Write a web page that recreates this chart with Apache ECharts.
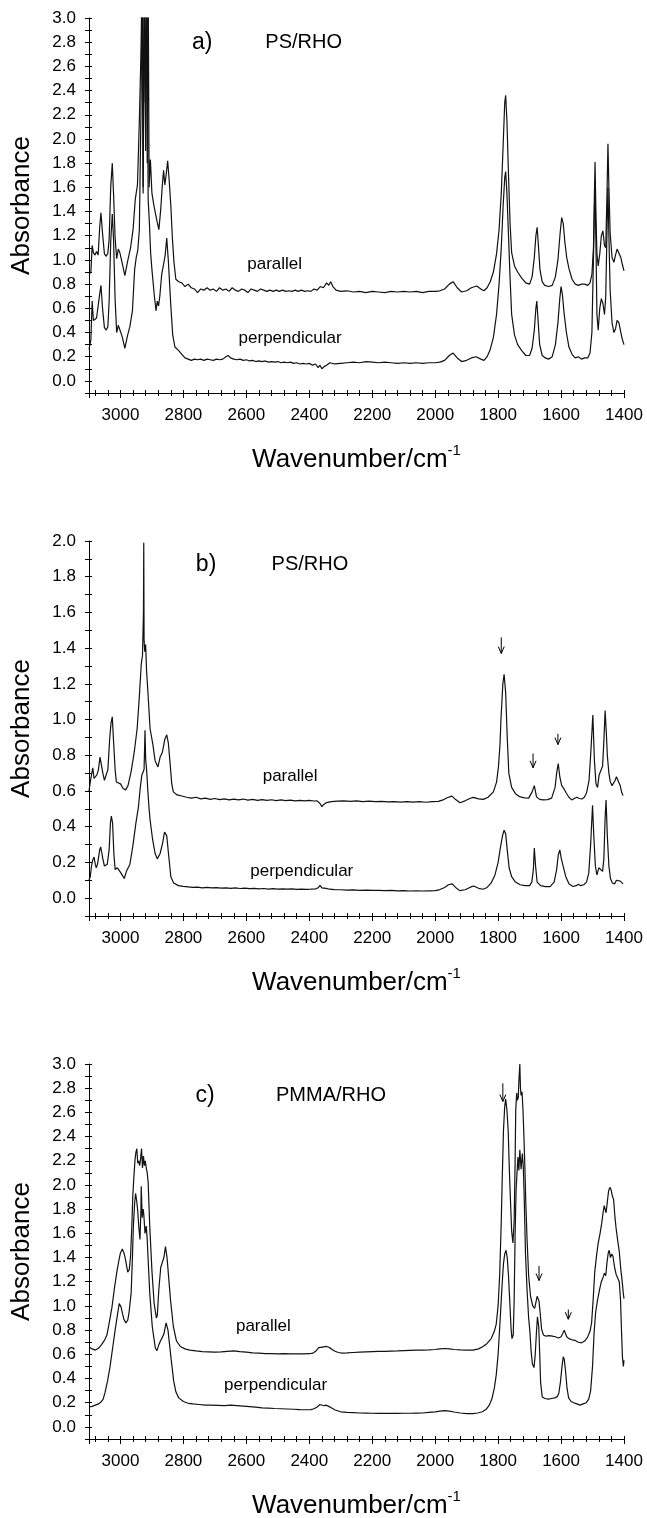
<!DOCTYPE html>
<html><head><meta charset="utf-8">
<script src="https://cdn.jsdelivr.net/npm/echarts@6/dist/echarts.min.js"></script>
<style>html,body{margin:0;padding:0;background:#fff}#chart{width:647px;height:1518px}</style>
</head><body><div id="chart"></div>
<script>
// ---------- DATA: [wavenumber (cm-1), absorbance] ----------
const aParallel = [[3100,0.88],[3094,0.90],[3090,1.12],[3086,1.06],[3081,1.04],[3076,1.07],[3071,1.04],[3066,1.27],[3062,1.39],[3057,1.22],[3051,1.05],[3045,1.03],[3040,1.06],[3036,1.17],[3031,1.60],[3026,1.80],[3022,1.55],[3017,1.18],[3012,1.01],[3007,1.09],[3002,1.06],[2995,0.98],[2986,0.87],[2978,0.98],[2968,1.10],[2960,1.25],[2953,1.50],[2946,1.62],[2940,2.15],[2935,2.70],[2931,3.40],[2928,1.55],[2925,3.40],[2921,2.30],[2918,3.40],[2915,1.80],[2912,3.40],[2909,1.60],[2905,1.83],[2900,1.55],[2895,1.47],[2890,1.40],[2884,1.32],[2878,1.25],[2872,1.42],[2867,1.62],[2863,1.74],[2859,1.62],[2855,1.70],[2850,1.82],[2845,1.65],[2840,1.45],[2835,1.18],[2830,0.98],[2824,0.84],[2815,0.82],[2805,0.81],[2795,0.78],[2785,0.80],[2775,0.77],[2765,0.76],[2755,0.73],[2745,0.76],[2735,0.75],[2725,0.77],[2715,0.75],[2705,0.76],[2695,0.74],[2685,0.77],[2675,0.75],[2665,0.76],[2655,0.74],[2645,0.77],[2635,0.75],[2625,0.74],[2615,0.76],[2605,0.75],[2595,0.73],[2585,0.76],[2575,0.75],[2565,0.74],[2555,0.76],[2545,0.75],[2535,0.74],[2525,0.75],[2515,0.74],[2505,0.75],[2495,0.74],[2485,0.75],[2475,0.74],[2465,0.745],[2455,0.74],[2445,0.75],[2435,0.74],[2425,0.75],[2415,0.74],[2405,0.745],[2395,0.74],[2385,0.76],[2375,0.75],[2365,0.78],[2355,0.77],[2345,0.81],[2338,0.79],[2332,0.82],[2325,0.78],[2315,0.75],[2300,0.74],[2280,0.745],[2260,0.735],[2240,0.74],[2220,0.73],[2200,0.74],[2180,0.735],[2160,0.73],[2140,0.74],[2120,0.735],[2100,0.74],[2080,0.735],[2060,0.74],[2040,0.73],[2020,0.74],[2000,0.74],[1985,0.745],[1970,0.76],[1955,0.80],[1943,0.82],[1930,0.77],[1916,0.735],[1900,0.745],[1885,0.77],[1868,0.785],[1855,0.76],[1845,0.745],[1835,0.77],[1825,0.82],[1815,0.90],[1805,1.05],[1797,1.25],[1790,1.55],[1784,1.95],[1779,2.30],[1776,2.36],[1772,2.15],[1767,1.70],[1762,1.30],[1757,1.06],[1748,0.95],[1738,0.90],[1725,0.85],[1712,0.81],[1700,0.80],[1692,0.86],[1685,1.02],[1680,1.20],[1676,1.27],[1672,1.12],[1667,0.92],[1660,0.82],[1652,0.79],[1640,0.78],[1628,0.79],[1618,0.86],[1610,1.00],[1603,1.22],[1598,1.35],[1593,1.30],[1588,1.15],[1582,1.02],[1575,0.93],[1565,0.84],[1555,0.80],[1545,0.79],[1535,0.80],[1525,0.80],[1515,0.79],[1508,0.81],[1502,0.88],[1497,1.10],[1494,1.55],[1492,1.81],[1489,1.35],[1486,1.05],[1482,0.95],[1477,1.05],[1472,1.20],[1467,1.24],[1462,1.12],[1458,1.10],[1454,1.55],[1451,1.96],[1448,1.60],[1444,1.22],[1438,1.02],[1432,0.98],[1427,1.04],[1422,1.09],[1416,1.09],[1410,1.02],[1405,0.96],[1400,0.91]];
const aPerpendicular = [[3100,0.26],[3094,0.34],[3090,0.66],[3086,0.50],[3081,0.49],[3076,0.52],[3071,0.51],[3066,0.72],[3062,0.79],[3057,0.60],[3051,0.44],[3045,0.42],[3040,0.45],[3036,0.66],[3031,1.15],[3026,1.38],[3022,1.17],[3017,0.67],[3012,0.40],[3007,0.46],[3002,0.45],[2995,0.37],[2986,0.27],[2978,0.37],[2970,0.45],[2962,0.58],[2955,0.92],[2950,1.02],[2945,1.08],[2940,1.25],[2935,2.20],[2931,3.30],[2928,1.60],[2924,3.30],[2920,1.90],[2916,3.30],[2912,1.50],[2908,1.30],[2904,1.05],[2900,0.92],[2893,0.72],[2887,0.58],[2883,0.66],[2879,0.62],[2875,0.70],[2869,0.88],[2864,0.95],[2858,1.04],[2853,1.18],[2848,1.00],[2840,0.62],[2834,0.38],[2827,0.28],[2815,0.25],[2805,0.22],[2795,0.19],[2785,0.18],[2775,0.17],[2765,0.18],[2755,0.175],[2745,0.18],[2735,0.17],[2725,0.18],[2715,0.175],[2705,0.17],[2695,0.18],[2685,0.175],[2675,0.18],[2665,0.20],[2658,0.21],[2650,0.19],[2640,0.18],[2630,0.175],[2620,0.18],[2610,0.17],[2600,0.175],[2590,0.165],[2580,0.17],[2570,0.16],[2560,0.165],[2550,0.16],[2540,0.165],[2530,0.155],[2520,0.16],[2510,0.155],[2500,0.16],[2490,0.15],[2480,0.155],[2470,0.15],[2460,0.155],[2450,0.145],[2440,0.15],[2430,0.14],[2420,0.145],[2410,0.14],[2400,0.145],[2390,0.13],[2380,0.14],[2372,0.11],[2366,0.13],[2360,0.10],[2352,0.12],[2345,0.13],[2335,0.15],[2320,0.14],[2300,0.145],[2280,0.15],[2260,0.155],[2240,0.15],[2220,0.16],[2200,0.155],[2180,0.15],[2160,0.155],[2140,0.15],[2120,0.145],[2100,0.15],[2080,0.145],[2060,0.15],[2040,0.145],[2020,0.15],[2000,0.15],[1985,0.155],[1970,0.17],[1955,0.21],[1943,0.23],[1930,0.19],[1916,0.16],[1900,0.17],[1885,0.19],[1870,0.20],[1855,0.18],[1845,0.17],[1835,0.20],[1825,0.26],[1815,0.36],[1805,0.55],[1797,0.80],[1790,1.10],[1784,1.45],[1779,1.68],[1776,1.73],[1772,1.55],[1767,1.20],[1762,0.85],[1757,0.55],[1748,0.38],[1738,0.30],[1725,0.25],[1712,0.21],[1700,0.21],[1692,0.27],[1685,0.42],[1680,0.60],[1677,0.66],[1673,0.50],[1668,0.30],[1660,0.21],[1650,0.19],[1640,0.18],[1628,0.20],[1618,0.30],[1610,0.48],[1604,0.68],[1600,0.78],[1596,0.72],[1590,0.55],[1583,0.40],[1575,0.28],[1565,0.22],[1555,0.19],[1545,0.20],[1535,0.18],[1525,0.19],[1515,0.19],[1508,0.23],[1502,0.40],[1498,0.90],[1494,1.40],[1492,1.65],[1489,1.10],[1486,0.55],[1482,0.42],[1477,0.60],[1472,0.68],[1467,0.64],[1462,0.55],[1458,0.70],[1454,1.25],[1451,1.60],[1448,1.20],[1444,0.75],[1438,0.48],[1432,0.40],[1427,0.43],[1422,0.50],[1416,0.48],[1410,0.40],[1405,0.34],[1400,0.30]];

const bParallel = [[3100,0.60],[3095,0.66],[3091,0.70],[3088,0.73],[3084,0.67],[3079,0.66],[3075,0.69],[3070,0.72],[3065,0.79],[3061,0.80],[3056,0.70],[3051,0.66],[3046,0.665],[3040,0.72],[3034,0.90],[3030,0.98],[3026,1.015],[3022,0.88],[3017,0.72],[3013,0.65],[3007,0.645],[3000,0.64],[2992,0.615],[2984,0.605],[2976,0.63],[2966,0.71],[2956,0.82],[2947,0.95],[2940,1.13],[2934,1.31],[2930,1.36],[2927,1.60],[2926,1.99],[2925,1.45],[2923,1.38],[2920,1.42],[2917,1.27],[2913,1.16],[2906,0.95],[2897,0.86],[2890,0.77],[2881,0.735],[2874,0.79],[2867,0.815],[2859,0.89],[2853,0.915],[2848,0.87],[2843,0.77],[2837,0.64],[2832,0.595],[2820,0.578],[2805,0.572],[2790,0.565],[2775,0.56],[2760,0.565],[2745,0.556],[2730,0.56],[2715,0.553],[2700,0.558],[2685,0.552],[2670,0.556],[2655,0.55],[2640,0.554],[2625,0.55],[2610,0.555],[2595,0.549],[2580,0.553],[2565,0.548],[2550,0.552],[2535,0.548],[2520,0.551],[2505,0.546],[2490,0.55],[2475,0.546],[2460,0.549],[2445,0.545],[2430,0.548],[2415,0.545],[2400,0.547],[2385,0.544],[2375,0.545],[2366,0.53],[2360,0.512],[2354,0.525],[2345,0.535],[2330,0.54],[2310,0.543],[2290,0.545],[2270,0.542],[2250,0.545],[2230,0.54],[2210,0.543],[2190,0.54],[2170,0.542],[2150,0.539],[2130,0.541],[2110,0.538],[2090,0.54],[2070,0.538],[2050,0.54],[2030,0.537],[2010,0.54],[1990,0.542],[1975,0.55],[1962,0.562],[1947,0.571],[1935,0.552],[1921,0.534],[1905,0.545],[1890,0.558],[1879,0.564],[1862,0.556],[1847,0.553],[1832,0.565],[1815,0.595],[1805,0.65],[1799,0.735],[1794,0.86],[1791,1.00],[1785,1.20],[1781,1.254],[1776,1.15],[1771,0.90],[1766,0.70],[1757,0.62],[1745,0.585],[1730,0.567],[1715,0.562],[1703,0.56],[1692,0.595],[1685,0.63],[1678,0.567],[1668,0.553],[1657,0.55],[1643,0.552],[1630,0.56],[1619,0.62],[1614,0.70],[1609,0.754],[1604,0.68],[1598,0.63],[1590,0.61],[1584,0.59],[1575,0.565],[1566,0.55],[1558,0.558],[1550,0.565],[1542,0.558],[1534,0.555],[1526,0.565],[1519,0.59],[1511,0.66],[1506,0.80],[1499,1.025],[1494,0.77],[1489,0.64],[1484,0.62],[1479,0.69],[1473,0.68],[1468,0.74],[1464,0.88],[1460,1.05],[1456,0.92],[1453,0.80],[1448,0.70],[1444,0.655],[1438,0.63],[1433,0.625],[1428,0.66],[1424,0.68],[1418,0.67],[1412,0.63],[1407,0.59],[1403,0.575]];
const bPerpendicular = [[3100,0.10],[3096,0.12],[3092,0.18],[3088,0.215],[3084,0.23],[3080,0.19],[3077,0.17],[3073,0.19],[3070,0.20],[3066,0.27],[3063,0.287],[3059,0.25],[3056,0.22],[3051,0.18],[3048,0.17],[3042,0.19],[3036,0.27],[3032,0.42],[3029,0.46],[3025,0.42],[3021,0.25],[3017,0.16],[3010,0.17],[3002,0.15],[2995,0.13],[2988,0.11],[2981,0.15],[2970,0.19],[2960,0.30],[2951,0.42],[2943,0.51],[2937,0.62],[2932,0.69],[2928,0.70],[2925,0.72],[2922,0.94],[2920,0.78],[2917,0.72],[2913,0.60],[2909,0.50],[2906,0.44],[2898,0.33],[2890,0.25],[2883,0.22],[2874,0.25],[2866,0.31],[2860,0.37],[2853,0.35],[2848,0.26],[2840,0.12],[2831,0.085],[2816,0.07],[2800,0.066],[2785,0.063],[2770,0.06],[2755,0.062],[2740,0.058],[2725,0.06],[2710,0.057],[2695,0.059],[2680,0.056],[2665,0.058],[2650,0.055],[2635,0.057],[2620,0.054],[2605,0.056],[2590,0.053],[2575,0.055],[2560,0.052],[2545,0.054],[2530,0.051],[2515,0.053],[2500,0.05],[2485,0.052],[2470,0.05],[2455,0.052],[2440,0.049],[2425,0.051],[2410,0.049],[2395,0.05],[2380,0.052],[2372,0.058],[2366,0.072],[2360,0.058],[2354,0.066],[2347,0.055],[2335,0.05],[2320,0.048],[2300,0.047],[2280,0.045],[2260,0.046],[2240,0.044],[2220,0.045],[2200,0.043],[2180,0.044],[2160,0.042],[2140,0.043],[2120,0.041],[2100,0.042],[2080,0.04],[2060,0.041],[2040,0.04],[2020,0.041],[2000,0.042],[1985,0.048],[1970,0.06],[1958,0.075],[1946,0.08],[1935,0.06],[1922,0.042],[1905,0.047],[1890,0.06],[1878,0.068],[1862,0.055],[1848,0.05],[1835,0.06],[1822,0.085],[1810,0.13],[1800,0.20],[1793,0.28],[1786,0.35],[1781,0.38],[1776,0.36],[1771,0.27],[1765,0.17],[1757,0.12],[1745,0.09],[1730,0.075],[1715,0.07],[1700,0.07],[1693,0.09],[1688,0.16],[1685,0.28],[1681,0.18],[1676,0.09],[1665,0.07],[1650,0.065],[1635,0.065],[1622,0.09],[1614,0.16],[1609,0.24],[1604,0.27],[1599,0.22],[1592,0.17],[1585,0.12],[1575,0.08],[1562,0.065],[1552,0.07],[1545,0.078],[1538,0.07],[1528,0.075],[1519,0.09],[1512,0.14],[1506,0.30],[1500,0.52],[1496,0.35],[1491,0.18],[1486,0.13],[1480,0.17],[1474,0.18],[1468,0.15],[1464,0.22],[1460,0.45],[1457,0.55],[1453,0.35],[1448,0.18],[1443,0.11],[1437,0.085],[1430,0.08],[1424,0.10],[1418,0.11],[1412,0.095],[1406,0.085],[1403,0.08]];

const cParallel = [[3100,0.66],[3090,0.645],[3080,0.635],[3070,0.65],[3060,0.68],[3050,0.72],[3043,0.76],[3035,0.87],[3027,0.99],[3019,1.15],[3011,1.29],[3004,1.39],[3000,1.44],[2994,1.47],[2988,1.43],[2983,1.37],[2977,1.28],[2972,1.30],[2968,1.41],[2964,1.65],[2961,1.90],[2958,2.04],[2954,2.20],[2951,2.27],[2948,2.30],[2945,2.18],[2942,2.20],[2939,2.16],[2936,2.22],[2933,2.30],[2930,2.14],[2927,2.24],[2924,2.16],[2921,2.20],[2918,2.14],[2915,2.10],[2912,2.02],[2907,1.66],[2900,1.29],[2893,1.02],[2886,0.90],[2883,0.92],[2878,1.14],[2872,1.32],[2867,1.36],[2862,1.40],[2857,1.49],[2852,1.40],[2847,1.24],[2841,1.05],[2832,0.83],[2822,0.71],[2810,0.665],[2795,0.645],[2780,0.635],[2760,0.628],[2740,0.622],[2720,0.62],[2700,0.618],[2680,0.62],[2660,0.625],[2640,0.628],[2620,0.622],[2600,0.618],[2580,0.612],[2560,0.61],[2540,0.606],[2520,0.605],[2500,0.604],[2480,0.605],[2460,0.603],[2440,0.604],[2420,0.603],[2400,0.605],[2388,0.61],[2378,0.63],[2370,0.655],[2364,0.668],[2358,0.66],[2352,0.655],[2345,0.665],[2338,0.658],[2330,0.645],[2320,0.628],[2308,0.615],[2295,0.61],[2280,0.612],[2260,0.615],[2240,0.618],[2220,0.62],[2200,0.622],[2180,0.624],[2160,0.625],[2140,0.627],[2120,0.628],[2100,0.63],[2080,0.632],[2060,0.634],[2040,0.635],[2020,0.637],[2000,0.64],[1985,0.645],[1970,0.648],[1955,0.645],[1940,0.64],[1920,0.637],[1900,0.635],[1880,0.635],[1862,0.645],[1848,0.665],[1835,0.69],[1822,0.73],[1812,0.79],[1806,0.85],[1800,1.00],[1795,1.26],[1790,1.70],[1787,2.04],[1783,2.45],[1779,2.65],[1776,2.71],[1772,2.62],[1768,2.45],[1764,2.10],[1761,1.89],[1757,1.62],[1753,1.52],[1749,1.70],[1746,2.20],[1744,2.62],[1741,2.76],[1739,2.70],[1736,2.72],[1734,2.86],[1731,3.00],[1729,2.80],[1727,2.74],[1724,2.77],[1721,2.62],[1718,2.40],[1715,2.15],[1712,1.85],[1708,1.55],[1703,1.25],[1697,1.08],[1690,1.00],[1684,0.98],[1679,1.04],[1676,1.08],[1673,1.09],[1670,1.04],[1666,0.93],[1662,0.81],[1656,0.76],[1648,0.75],[1638,0.755],[1628,0.75],[1618,0.745],[1608,0.735],[1600,0.745],[1595,0.77],[1590,0.80],[1587,0.795],[1582,0.745],[1575,0.73],[1565,0.72],[1555,0.715],[1545,0.70],[1535,0.695],[1525,0.71],[1516,0.74],[1508,0.79],[1503,0.86],[1498,1.05],[1493,1.28],[1487,1.42],[1482,1.52],[1476,1.60],[1471,1.68],[1467,1.76],[1463,1.83],[1460,1.80],[1457,1.77],[1453,1.86],[1449,1.95],[1445,1.98],[1441,1.96],[1437,1.91],[1433,1.88],[1429,1.74],[1425,1.64],[1420,1.54],[1415,1.45],[1410,1.30],[1405,1.18],[1402,1.10],[1400,1.06]];
const cPerpendicular = [[3100,0.165],[3090,0.17],[3080,0.18],[3070,0.19],[3062,0.205],[3055,0.23],[3049,0.285],[3041,0.38],[3033,0.50],[3025,0.65],[3017,0.80],[3010,0.92],[3004,1.02],[2998,0.99],[2993,0.93],[2989,0.89],[2983,0.86],[2977,0.88],[2973,0.94],[2966,1.11],[2962,1.40],[2959,1.66],[2955,1.85],[2952,1.93],[2948,1.86],[2945,1.78],[2942,1.66],[2938,1.55],[2935,1.80],[2934,1.99],[2931,1.73],[2928,1.80],[2926,1.76],[2922,1.60],[2918,1.66],[2915,1.55],[2912,1.38],[2907,1.11],[2899,0.83],[2893,0.72],[2889,0.65],[2884,0.63],[2878,0.68],[2873,0.71],[2867,0.74],[2862,0.77],[2855,0.86],[2849,0.80],[2844,0.68],[2839,0.56],[2831,0.38],[2824,0.29],[2815,0.24],[2800,0.21],[2785,0.195],[2770,0.19],[2750,0.185],[2730,0.18],[2710,0.18],[2690,0.178],[2670,0.176],[2650,0.18],[2630,0.176],[2610,0.172],[2590,0.168],[2570,0.163],[2550,0.158],[2530,0.155],[2510,0.152],[2490,0.15],[2470,0.148],[2450,0.146],[2430,0.143],[2410,0.142],[2395,0.143],[2385,0.15],[2375,0.165],[2366,0.185],[2360,0.19],[2354,0.175],[2347,0.18],[2340,0.172],[2330,0.158],[2318,0.14],[2300,0.125],[2280,0.12],[2260,0.118],[2240,0.115],[2220,0.114],[2200,0.113],[2180,0.112],[2160,0.112],[2140,0.113],[2120,0.112],[2100,0.113],[2080,0.113],[2060,0.114],[2040,0.115],[2020,0.12],[2000,0.125],[1985,0.13],[1970,0.135],[1955,0.13],[1940,0.123],[1920,0.115],[1900,0.11],[1880,0.11],[1865,0.115],[1850,0.125],[1838,0.145],[1828,0.18],[1820,0.23],[1812,0.32],[1806,0.43],[1800,0.60],[1795,0.82],[1790,1.05],[1787,1.19],[1783,1.35],[1779,1.43],[1775,1.46],[1771,1.40],[1767,1.25],[1763,1.04],[1759,0.82],[1756,0.73],[1752,0.76],[1749,1.05],[1746,1.59],[1743,1.95],[1740,2.10],[1737,2.23],[1734,2.12],[1731,2.29],[1727,2.13],[1723,2.26],[1720,2.15],[1717,1.89],[1713,1.43],[1708,1.13],[1703,0.90],[1699,0.79],[1695,0.62],[1691,0.52],[1686,0.49],[1682,0.60],[1678,0.79],[1675,0.91],[1671,0.83],[1668,0.62],[1665,0.37],[1660,0.25],[1652,0.235],[1640,0.23],[1630,0.235],[1620,0.24],[1612,0.25],[1607,0.28],[1602,0.37],[1597,0.50],[1593,0.58],[1590,0.56],[1586,0.47],[1581,0.32],[1576,0.24],[1568,0.21],[1560,0.20],[1550,0.19],[1540,0.18],[1530,0.19],[1520,0.20],[1512,0.23],[1506,0.30],[1500,0.50],[1495,0.78],[1490,0.95],[1484,1.05],[1478,1.13],[1472,1.20],[1466,1.24],[1462,1.27],[1458,1.25],[1454,1.36],[1450,1.44],[1447,1.46],[1443,1.40],[1439,1.43],[1435,1.41],[1430,1.32],[1425,1.26],[1420,1.23],[1415,1.20],[1411,1.05],[1408,0.80],[1405,0.58],[1402,0.50],[1400,0.55]];

// panel annotations: [wavenumber, absorbance, text]
const panelTags   = [[[2740, 2.80, 'a)']], [[2728, 1.87, 'b)']], [[2731, 2.74, 'c)']]];
const sampleNames = [[[2418, 2.80, 'PS/RHO']], [[2398, 1.87, 'PS/RHO']], [[2331, 2.74, 'PMMA/RHO']]];
const curveLabels = [
  [[2510, 0.96, 'parallel'], [2461, 0.355, 'perpendicular']],
  [[2461, 0.68, 'parallel'], [2424, 0.15, 'perpendicular']],
  [[2546, 0.83, 'parallel'], [2507, 0.34, 'perpendicular']]
];
// arrows: [wavenumber, top, tip]
const arrowMarks = [
  [],
  [[1790, 1.46, 1.37], [1689, 0.81, 0.73], [1610, 0.92, 0.86]],
  [[1785, 2.84, 2.69], [1670, 1.33, 1.21], [1577, 0.97, 0.89]]
];
const yMaxima = [3.0, 2.0, 3.0];
const xMin = 1400, xMax = 3100, xMajorStep = 200, xMinorStep = 40;
const yMin = -0.1, yStep = 0.1;
const xTitle = 'Wavenumber/cm', xTitleSup = '-1', yTitle = 'Absorbance';

// ---------- LAYOUT ----------
const FONT = '"Liberation Sans", Arial, Helvetica, sans-serif';
const GRID_TOPS = [18, 541, 1064];
const GRID_H = 375, GRID_L = 89, GRID_W = 535;
const INK = '#000';

const seriesData = [[aParallel, aPerpendicular], [bParallel, bPerpendicular], [cParallel, cPerpendicular]];

const grid = [], xAxis = [], yAxis = [], series = [];
for (let i = 0; i < 3; i++) {
  grid.push({left: GRID_L, top: GRID_TOPS[i], width: GRID_W, height: GRID_H, outerBoundsMode: 'none', containLabel: false});
  const common = {gridIndex: i, type: 'value', inverse: true, min: xMin, max: xMax, position: 'bottom', splitLine: {show: false}};
  xAxis.push(Object.assign({}, common, {
    interval: xMajorStep,
    axisLine: {show: true, onZero: false, lineStyle: {color: INK, width: 1}},
    axisTick: {show: true, inside: false, length: 5, lineStyle: {color: INK, width: 1}},
    axisLabel: {show: true, margin: 14, fontSize: 17, color: INK, fontFamily: FONT,
      formatter: v => (Math.round(v) % xMajorStep === 0 ? String(Math.round(v)) : '')},
    name: '{t|' + xTitle + '}{s|' + xTitleSup + '}', nameLocation: 'middle', nameGap: 50,
    nameTextStyle: {rich: {
      t: {fontSize: 26, fontFamily: FONT, color: INK, lineHeight: 34},
      s: {fontSize: 15, fontFamily: FONT, color: INK, verticalAlign: 'top', lineHeight: 15}
    }}
  }));
  xAxis.push(Object.assign({}, common, {
    interval: xMinorStep, axisLine: {show: false, onZero: false},
    axisTick: {show: true, inside: true, length: 3, lineStyle: {color: INK, width: 1}},
    axisLabel: {show: false}
  }));
  xAxis.push(Object.assign({}, common, {
    interval: xMinorStep, axisLine: {show: false, onZero: false},
    axisTick: {show: true, inside: false, length: 3, lineStyle: {color: INK, width: 1}},
    axisLabel: {show: false}
  }));
  const ycommon = {gridIndex: i, type: 'value', min: yMin, max: yMaxima[i], interval: yStep, position: 'left', splitLine: {show: false}};
  yAxis.push(Object.assign({}, ycommon, {
    axisLine: {show: true, onZero: false, lineStyle: {color: INK, width: 1}},
    axisTick: {show: true, inside: false, length: 4, lineStyle: {color: INK, width: 1}},
    axisLabel: {show: true, margin: 13, fontSize: 17, color: INK, fontFamily: FONT,
      formatter: v => { const k = Math.round(v * 10); return (k >= 0 && k % 2 === 0) ? (k / 10).toFixed(1) : ''; }},
    name: yTitle, nameLocation: 'middle', nameGap: 54,
    nameTextStyle: {fontSize: 26, fontFamily: FONT, color: INK}
  }));
  yAxis.push(Object.assign({}, ycommon, {
    axisLine: {show: false, onZero: false},
    axisTick: {show: true, inside: true, length: 3, lineStyle: {color: INK, width: 1}},
    axisLabel: {show: false}
  }));

  const xi = i * 3, yi = i * 2;
  seriesData[i].forEach(d => series.push({
    type: 'line', xAxisIndex: xi, yAxisIndex: yi, data: d, showSymbol: false, symbol: 'none',
    clip: true, lineStyle: {color: '#111', width: 1.2}, silent: true, animation: false
  }));
  const textSeries = (arr, size) => ({
    type: 'scatter', xAxisIndex: xi, yAxisIndex: yi, symbolSize: 1, silent: true, animation: false,
    itemStyle: {color: 'rgba(0,0,0,0)', opacity: 1},
    data: arr.map(l => ({value: [l[0], l[1]], name: l[2]})),
    label: {show: true, position: 'inside', formatter: '{b}', fontSize: size, fontFamily: FONT,
      color: INK, opacity: 1, textBorderWidth: 0}
  });
  series.push(textSeries(panelTags[i], 23));
  series.push(textSeries(sampleNames[i], 20));
  series.push(textSeries(curveLabels[i], 17));
  if (arrowMarks[i].length) {
    series.push({
      type: 'custom', xAxisIndex: xi, yAxisIndex: yi, data: arrowMarks[i], silent: true, animation: false, clip: false,
      renderItem: (params, api) => {
        const p1 = api.coord([api.value(0), api.value(1)]);
        const p2 = api.coord([api.value(0), api.value(2)]);
        return {type: 'group', children: [
          {type: 'line', shape: {x1: p1[0], y1: p1[1], x2: p2[0], y2: p2[1]}, style: {stroke: INK, lineWidth: 1}},
          {type: 'polyline', shape: {points: [[p2[0] - 3, p2[1] - 7], [p2[0], p2[1]], [p2[0] + 3, p2[1] - 7]]}, style: {stroke: INK, fill: null, lineWidth: 1}}
        ]};
      }
    });
  }
}

const chart = echarts.init(document.getElementById('chart'), null, {renderer: 'canvas'});
chart.setOption({animation: false, backgroundColor: '#fff', grid, xAxis, yAxis, series});
</script></body></html>
